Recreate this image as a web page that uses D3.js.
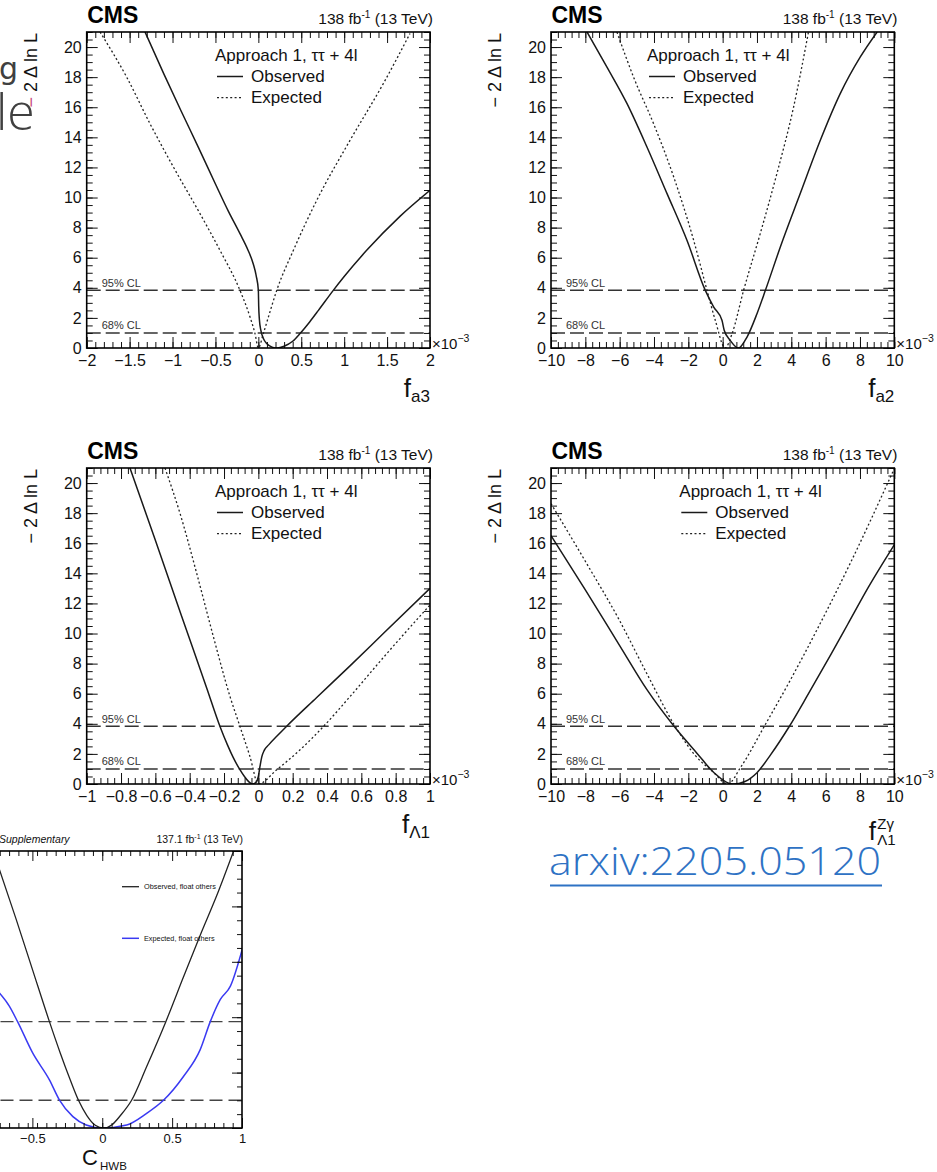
<!DOCTYPE html>
<html>
<head>
<meta charset="utf-8">
<script src="https://cdn.jsdelivr.net/npm/d3@7"></script>
<style>
  body { margin: 0; background: #fff; }
  svg { display: block; }
  text { font-family: "Liberation Sans", Arial, Helvetica, sans-serif; }
</style>
</head>
<body>
<svg id="chart" width="937" height="1172"></svg>
<script>
// ---- likelihood scans: [parameter value (x 1e-3), -2 Delta ln L] ----
const fa3Observed = [[-1.32,21],[-1.1,18.2],[-0.9,15.75],[-0.7,13.35],[-0.5,10.9],[-0.35,9.1],[-0.214,7.6],
  [-0.12,6.5],[-0.06,5.6],[-0.025,4.8],[0,3.84],[0.004,2.8],[0.012,1.9],[0.03,1.15],[0.06,0.62],[0.1,0.28],
  [0.16,0.06],[0.22,0],[0.3,0.12],[0.4,0.45],[0.485,0.96],[0.6,1.75],[0.7,2.5],[0.873,3.83],[1.0,4.75],
  [1.262,6.49],[1.65,8.75],[2.0,10.48]];
const fa3Expected = [[-1.845,21],[-1.534,18.0],[-1.262,14.9],[-0.99,12.03],[-0.68,8.93],[-0.447,6.49],
  [-0.214,3.83],[-0.097,2.06],[-0.039,0.96],[0,0],[0.058,0.96],[0.117,2.06],[0.214,3.83],[0.408,6.49],
  [0.68,9.81],[1.068,13.8],[1.456,17.57],[1.767,20.9]];

const fa2Observed = [[-7.9,21],[-6.74,18.67],[-5.57,16.24],[-4.41,13.36],[-3.24,10.26],[-2.08,7.16],
  [-1.01,3.83],[-0.52,2.72],[-0.04,1.84],[0.09,1.18],[0.44,0.51],[0.92,0],[1.42,0.73],[2.0,2.28],
  [2.49,3.83],[3.36,6.71],[4.52,10.26],[5.69,13.8],[6.85,16.9],[8.02,19.34],[9.0,21]];
const fa2Expected = [[-6.16,21],[-5.19,18.0],[-4.02,14.9],[-2.85,11.36],[-1.69,7.16],[-0.91,3.83],
  [-0.43,1.84],[0.15,0],[0.55,0.96],[1.22,3.83],[2.19,7.6],[3.16,11.59],[4.13,16.0],[5.0,21]];

const fL1Observed = [[-0.748,21],[-0.6,16.2],[-0.45,11.25],[-0.3,6.35],[-0.224,3.84],[-0.18,2.6],
  [-0.146,1.75],[-0.11,1.0],[-0.08,0.48],[-0.055,0.14],[-0.035,0],[-0.015,0.1],[0.0,0.5],[0.01,1.2],
  [0.02,1.8],[0.035,2.25],[0.06,2.6],[0.11,3.2],[0.165,3.84],[0.34,5.75],[0.534,7.85],[0.728,10.0],[1.0,13.0]];
const fL1Expected = [[-0.544,21],[-0.456,17.97],[-0.359,13.99],[-0.262,9.79],[-0.165,5.81],[-0.107,3.82],
  [-0.049,1.83],[0,0],[0.107,0.95],[0.243,2.27],[0.379,3.82],[0.534,5.81],[0.728,8.4],[1.0,11.9]];

const fL1ZgObserved = [[-10,16.5],[-8,12.9],[-6,9.2],[-4.4,6.25],[-2.82,3.82],[-1.5,2.05],[-0.5,0.75],
  [0.6,0],[1.3,0.17],[2.0,0.75],[2.8,1.95],[3.88,3.82],[5.0,6.0],[6.3,8.6],[7.28,10.6],[8.5,13.1],[10,15.9]];
const fL1ZgExpected = [[-10,18.63],[-8,14.8],[-6,10.85],[-4.4,7.3],[-2.76,3.82],[-1.6,1.9],[-0.6,0.85],
  [0.3,0],[1.07,1.15],[2.42,3.82],[3.94,6.9],[5.49,10.24],[7.43,14.66],[10,20.96]];

// C_HWB scan (SMEFT fit, float others)
const chwbObserved = [[-0.737,9.35],[-0.617,7.55],[-0.498,5.7],[-0.378,3.84],[-0.3,2.7],[-0.23,1.75],
  [-0.17,1.0],[-0.11,0.45],[-0.05,0.1],[0.01,0],[0.07,0.12],[0.13,0.45],[0.21,1.0],[0.318,2.22],
  [0.455,3.84],[0.581,5.45],[0.701,6.96],[0.82,8.4],[0.94,10]];
const chwbExpected = [[-0.737,4.88],[-0.665,4.4],[-0.606,3.84],[-0.498,2.71],[-0.378,1.74],[-0.306,1.01],
  [-0.21,0.41],[-0.115,0.11],[0,0],[0.175,0.11],[0.318,0.53],[0.438,1.0],[0.581,1.86],[0.701,2.83],
  [0.773,3.84],[0.845,4.64],[0.917,5.12],[1.005,6.51]];

// ---- axis ticks and labels ----
const fa3Ticks = [-2,-1.5,-1,-0.5,0,0.5,1,1.5,2];
const fa2Ticks = [-10,-8,-6,-4,-2,0,2,4,6,8,10];
const fL1Ticks = [-1,-0.8,-0.6,-0.4,-0.2,0,0.2,0.4,0.6,0.8,1];
const fL1ZgTicks = [-10,-8,-6,-4,-2,0,2,4,6,8,10];
const nllTicks = [0,2,4,6,8,10,12,14,16,18,20];
const chwbTicks = [-0.5,0,0.5,1];
const chwbYTicks = [0,2,4,6,8,10];
const clLevels = [1, 3.84];
const clLabels = ["68% CL", "95% CL"];
const legendTitle = "Approach 1, \u03c4\u03c4 + 4l";
const legendNames = ["Observed", "Expected"];
const lumiText = ["138 fb", "-1", " (13 TeV)"];

const svg = d3.select("#chart");
const W = 343.3, H = 316;
const fmt = v => d3.format("~g")(Math.round(v * 1e6) / 1e6);

function steps(d0, d1, step) {
  const n = Math.round((d1 - d0) / step);
  return d3.range(n + 1).map(i => Math.round((d0 + i * step) * 1e6) / 1e6);
}

function styleAxis(sel, fontSize) {
  sel.select(".domain").remove();
  sel.attr("font-size", fontSize).attr("color", "#111");
  sel.selectAll(".tick line").attr("stroke", "#111").attr("stroke-width", 1);
}

function panel(cfg) {
  const g = svg.append("g").attr("transform", `translate(${cfg.left},${cfg.top})`);
  const x = d3.scaleLinear().domain(cfg.xDomain).range([0, W]);
  const y = d3.scaleLinear().domain([0, 21]).range([H, 0]);
  const clipId = "clip-" + cfg.id;
  g.append("clipPath").attr("id", clipId).append("rect").attr("width", W).attr("height", H);

  // confidence-level reference lines
  clLevels.forEach((lv, i) => {
    g.append("line").attr("x1", 0).attr("x2", W).attr("y1", y(lv)).attr("y2", y(lv))
      .attr("stroke", "#333").attr("stroke-width", 1.4).attr("stroke-dasharray", "14,5");
    g.append("text").attr("x", 15).attr("y", y(lv) - 3.5).attr("font-size", 11).attr("fill", "#333")
      .text(clLabels[i]);
  });

  const line = d3.line().x(d => x(d[0])).y(d => y(d[1])).curve(d3.curveMonotoneX);
  g.append("path").datum(cfg.exp).attr("d", line).attr("clip-path", `url(#${clipId})`)
    .attr("fill", "none").attr("stroke", "#222").attr("stroke-width", 1.3).attr("stroke-dasharray", "2,2.4");
  g.append("path").datum(cfg.obs).attr("d", line).attr("clip-path", `url(#${clipId})`)
    .attr("fill", "none").attr("stroke", "#1a1a1a").attr("stroke-width", 1.5);

  // ticks on all four sides, pointing inward
  const minorX = steps(cfg.xDomain[0], cfg.xDomain[1], cfg.xMinor);
  const minorY = steps(0, 21, 0.5);
  g.append("g").attr("transform", `translate(0,${H})`)
    .call(d3.axisBottom(x).tickValues(minorX).tickSize(-6).tickFormat("")).call(s => styleAxis(s, 16));
  g.append("g").attr("transform", `translate(0,${H})`)
    .call(d3.axisBottom(x).tickValues(cfg.xTicks).tickSizeInner(-11).tickSizeOuter(0).tickPadding(7).tickFormat(fmt))
    .call(s => styleAxis(s, 16));
  g.append("g").call(d3.axisTop(x).tickValues(minorX).tickSize(-6).tickFormat("")).call(s => styleAxis(s, 16));
  g.append("g").call(d3.axisTop(x).tickValues(cfg.xTicks).tickSize(-11).tickFormat("")).call(s => styleAxis(s, 16));
  g.append("g").call(d3.axisLeft(y).tickValues(minorY).tickSize(-6).tickFormat("")).call(s => styleAxis(s, 16));
  g.append("g").call(d3.axisLeft(y).tickValues(nllTicks).tickSizeInner(-11).tickSizeOuter(0).tickPadding(5).tickFormat(fmt))
    .call(s => styleAxis(s, 16));
  g.append("g").attr("transform", `translate(${W},0)`)
    .call(d3.axisRight(y).tickValues(minorY).tickSize(-6).tickFormat("")).call(s => styleAxis(s, 16));
  g.append("g").attr("transform", `translate(${W},0)`)
    .call(d3.axisRight(y).tickValues(nllTicks).tickSize(-11).tickFormat("")).call(s => styleAxis(s, 16));

  g.append("rect").attr("width", W).attr("height", H).attr("fill", "none")
    .attr("stroke", "#000").attr("stroke-width", 1.6);

  // header
  g.append("text").attr("x", 0.5).attr("y", -9).attr("font-size", 23).attr("font-weight", "bold")
    .attr("fill", "#000").text("CMS");
  const lumi = g.append("text").attr("x", W + 3).attr("y", -8.5).attr("text-anchor", "end")
    .attr("font-size", 15.5).attr("fill", "#111");
  lumi.append("tspan").text(lumiText[0]);
  lumi.append("tspan").attr("dy", -6).attr("font-size", 10).text(lumiText[1]);
  lumi.append("tspan").attr("dy", 6).text(lumiText[2]);

  // legend
  const ax = 128.3 + cfg.legendDx;
  g.append("text").attr("x", ax).attr("y", 29).attr("font-size", 17).attr("fill", "#111").text(legendTitle);
  g.append("line").attr("x1", ax + 2).attr("x2", ax + 28).attr("y1", 44.5).attr("y2", 44.5)
    .attr("stroke", "#1a1a1a").attr("stroke-width", 1.5);
  g.append("text").attr("x", ax + 36).attr("y", 50.3).attr("font-size", 17).attr("fill", "#111").text(legendNames[0]);
  g.append("line").attr("x1", ax + 2).attr("x2", ax + 28).attr("y1", 65.7).attr("y2", 65.7)
    .attr("stroke", "#222").attr("stroke-width", 1.3).attr("stroke-dasharray", "2,2.4");
  g.append("text").attr("x", ax + 36).attr("y", 71.3).attr("font-size", 17).attr("fill", "#111").text(legendNames[1]);

  // y title
  const yt = g.append("text").attr("transform", "translate(-50,1) rotate(-90)").attr("text-anchor", "end")
    .attr("font-size", 18).attr("fill", "#111");
  yt.append("tspan").attr("fill", cfg.minusColor || "#111").text("\u2212");
  yt.append("tspan").text(" 2 \u0394 ln L");

  // exponent marker
  const ex = g.append("text").attr("x", W + 2).attr("y", H + 0.5).attr("font-size", 15).attr("fill", "#111");
  ex.append("tspan").text("\u00d710");
  ex.append("tspan").attr("dy", -7).attr("font-size", 10.5).text("\u22123");

  // x title
  if (cfg.sup) {
    g.append("text").attr("x", W - 25.5).attr("y", H + 56).attr("font-size", 26).attr("fill", "#111").text("f");
    g.append("text").attr("x", W - 17).attr("y", H + 45).attr("font-size", 15).attr("fill", "#111").text(cfg.sup);
    g.append("text").attr("x", W - 17).attr("y", H + 61).attr("font-size", 15).attr("fill", "#111").text(cfg.sub);
  } else {
    const t = g.append("text").attr("x", W).attr("y", H + 49).attr("text-anchor", "end")
      .attr("font-size", 26).attr("fill", "#111").text("f");
    t.append("tspan").attr("dy", 5).attr("font-size", 17).text(cfg.sub);
  }
}

panel({ id: "fa3", left: 86.7, top: 32, xDomain: [-2, 2], xTicks: fa3Ticks, xMinor: 0.1,
  obs: fa3Observed, exp: fa3Expected, legendDx: 0, sub: "a3", minusColor: "#c8457c" });
panel({ id: "fa2", left: 551, top: 32, xDomain: [-10, 10], xTicks: fa2Ticks, xMinor: 0.4,
  obs: fa2Observed, exp: fa2Expected, legendDx: -32.3, sub: "a2" });
panel({ id: "fL1", left: 86.7, top: 468, xDomain: [-1, 1], xTicks: fL1Ticks, xMinor: 0.04,
  obs: fL1Observed, exp: fL1Expected, legendDx: 0, sub: "\u039b1" });
panel({ id: "fL1Zg", left: 551, top: 468, xDomain: [-10, 10], xTicks: fL1ZgTicks, xMinor: 0.4,
  obs: fL1ZgObserved, exp: fL1ZgExpected, legendDx: 0, sub: "\u039b1", sup: "Z\u03b3" });

// ---- C_HWB scan (partly outside the page on the left) ----
(function () {
  const g = svg.append("g");
  const x = d3.scaleLinear().domain([-1, 1]).range([-37.5, 242]);
  const y = d3.scaleLinear().domain([0, 10]).range([1128, 851]);
  const x0 = x(-1), x1 = x(1), y0 = y(0), y1 = y(10);
  g.append("clipPath").attr("id", "clip-chwb").append("rect")
    .attr("x", x0).attr("y", y1).attr("width", x1 - x0).attr("height", y0 - y1);

  clLevels.forEach(lv => {
    g.append("line").attr("x1", x0).attr("x2", x1).attr("y1", y(lv)).attr("y2", y(lv))
      .attr("stroke", "#444").attr("stroke-width", 1.4).attr("stroke-dasharray", "13,6");
  });
  const line = d3.line().x(d => x(d[0])).y(d => y(d[1])).curve(d3.curveMonotoneX);
  g.append("path").datum(chwbExpected).attr("d", line).attr("clip-path", "url(#clip-chwb)")
    .attr("fill", "none").attr("stroke", "#3a3af2").attr("stroke-width", 1.5);
  g.append("path").datum(chwbObserved).attr("d", line).attr("clip-path", "url(#clip-chwb)")
    .attr("fill", "none").attr("stroke", "#222").attr("stroke-width", 1.3);

  const minorX = steps(-1, 1, 1 / 15);
  const minorY = steps(0, 10, 0.5);
  g.append("g").attr("transform", `translate(0,${y0})`)
    .call(d3.axisBottom(x).tickValues(minorX).tickSize(-5).tickFormat("")).call(s => styleAxis(s, 13));
  g.append("g").attr("transform", `translate(0,${y0})`)
    .call(d3.axisBottom(x).tickValues(chwbTicks).tickSizeInner(-10).tickSizeOuter(0).tickPadding(6).tickFormat(fmt))
    .call(s => styleAxis(s, 13));
  g.append("g").attr("transform", `translate(0,${y1})`)
    .call(d3.axisTop(x).tickValues(minorX).tickSize(-5).tickFormat("")).call(s => styleAxis(s, 13));
  g.append("g").attr("transform", `translate(0,${y1})`)
    .call(d3.axisTop(x).tickValues(chwbTicks).tickSize(-10).tickFormat("")).call(s => styleAxis(s, 13));
  g.append("g").attr("transform", `translate(${x1},0)`)
    .call(d3.axisRight(y).tickValues(minorY).tickSize(-5).tickFormat("")).call(s => styleAxis(s, 13));
  g.append("g").attr("transform", `translate(${x1},0)`)
    .call(d3.axisRight(y).tickValues(chwbYTicks).tickSize(-10).tickFormat("")).call(s => styleAxis(s, 13));
  g.append("rect").attr("x", x0).attr("y", y1).attr("width", x1 - x0).attr("height", y0 - y1)
    .attr("fill", "none").attr("stroke", "#000").attr("stroke-width", 1.6);

  g.append("text").attr("x", -1).attr("y", 843).attr("font-size", 10.5).attr("font-style", "italic")
    .attr("fill", "#111").text("Supplementary");
  const lumi = g.append("text").attr("x", 243).attr("y", 843).attr("text-anchor", "end")
    .attr("font-size", 10.5).attr("fill", "#111");
  lumi.append("tspan").text("137.1 fb");
  lumi.append("tspan").attr("dy", -4).attr("font-size", 7).text("-1");
  lumi.append("tspan").attr("dy", 4).text(" (13 TeV)");

  g.append("line").attr("x1", 122).attr("x2", 139).attr("y1", 886.7).attr("y2", 886.7)
    .attr("stroke", "#222").attr("stroke-width", 1.3);
  g.append("text").attr("x", 144).attr("y", 889.4).attr("font-size", 7.3).attr("fill", "#111")
    .text("Observed, float others");
  g.append("line").attr("x1", 122).attr("x2", 139).attr("y1", 938.3).attr("y2", 938.3)
    .attr("stroke", "#3a3af2").attr("stroke-width", 1.5);
  g.append("text").attr("x", 144).attr("y", 941).attr("font-size", 7.3).attr("fill", "#111")
    .text("Expected, float others");

  g.append("text").attr("x", 82).attr("y", 1165).attr("font-size", 22).attr("fill", "#111").text("C");
  g.append("text").attr("x", 100).attr("y", 1170).attr("font-size", 11.5).attr("fill", "#111").text("HWB");
})();

// ---- slide text around the figures ----
const slideFont = "'Open Sans', 'DejaVu Sans', sans-serif";
svg.append("text").attr("x", -1).attr("y", 79).style("font-family", "'DejaVu Sans', sans-serif")
  .style("font-weight", 400).attr("font-size", 30).attr("fill", "#404040").text("g");
svg.append("text").attr("x", -4).attr("y", 130).style("font-family", slideFont)
  .style("font-weight", 300).attr("font-size", 50).attr("fill", "#404040").text("le");

svg.append("a").attr("href", "https://arxiv.org/abs/2205.05120")
  .append("text").attr("x", 549).attr("y", 875).style("font-family", slideFont)
  .style("font-weight", 300).attr("font-size", 38).attr("fill", "#2e72c4")
  .attr("textLength", 332).attr("lengthAdjust", "spacingAndGlyphs").text("arxiv:2205.05120");
svg.append("line").attr("x1", 550).attr("x2", 882).attr("y1", 885.5).attr("y2", 885.5)
  .attr("stroke", "#2e72c4").attr("stroke-width", 2);
</script>
</body>
</html>
